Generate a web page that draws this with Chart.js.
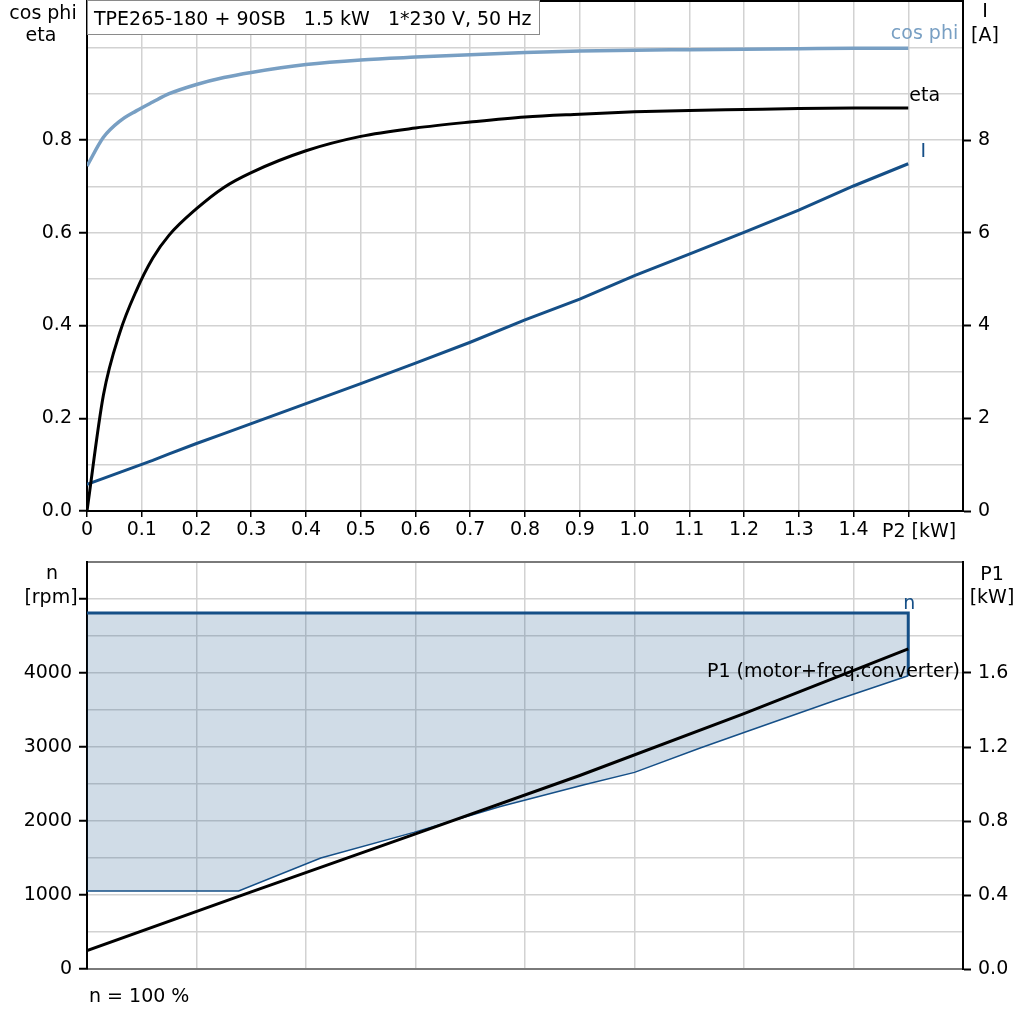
<!DOCTYPE html>
<html>
<head>
<meta charset="utf-8">
<script src="https://cdn.jsdelivr.net/npm/chart.js@4.4.1/dist/chart.umd.min.js"></script>
<style>
  html, body { margin: 0; padding: 0; background: #fff; }
  #wrap { position: relative; width: 1024px; height: 1024px; overflow: hidden; }
  #top { position: absolute; left: 0; top: 0; }
  #bot { position: absolute; left: 0; top: 545px; }
</style>
</head>
<body>
<div id="wrap">
  <canvas id="top" width="1024" height="545"></canvas>
  <canvas id="bot" width="1024" height="479"></canvas>
</div>
<script>
// --- dados ---
const P2 = [0, 0.03, 0.06, 0.09, 0.12, 0.15, 0.2, 0.25, 0.3, 0.4, 0.5, 0.6, 0.7, 0.8, 0.9, 1.0, 1.1, 1.2, 1.3, 1.4, 1.5];
const cosPhi = [0.744, 0.806, 0.841, 0.863, 0.882, 0.9, 0.92, 0.935, 0.946, 0.963, 0.973, 0.979, 0.984, 0.989, 0.992, 0.994, 0.995, 0.996, 0.997, 0.998, 0.998];
const eta = [0, 0.25, 0.385, 0.475, 0.545, 0.595, 0.652, 0.698, 0.73, 0.777, 0.808, 0.826, 0.839, 0.85, 0.856, 0.861, 0.864, 0.866, 0.868, 0.869, 0.869];
const corrente = [0.574, 0.703, 0.832, 0.961, 1.09, 1.23, 1.456, 1.67, 1.886, 2.316, 2.746, 3.19, 3.64, 4.12, 4.57, 5.075, 5.54, 6.01, 6.49, 7.01, 7.49];

const P2nMax = [0, 1.5];
const nMax = [4810, 4810];
const P2nMin = [0, 0.277, 0.427, 0.597, 0.755, 0.908, 1.0, 1.12, 1.2, 1.37, 1.5];
const nMin = [1054, 1054, 1500, 1846, 2197, 2491, 2657, 2986, 3197, 3639, 3963];
const P2p1 = [0, 0.3, 0.6, 0.9, 1.2, 1.5];
const P1 = [0.100, 0.417, 0.73, 1.046, 1.38, 1.73];

const titulo = 'TPE265-180 + 90SB   1.5 kW   1*230 V, 50 Hz';

const COR_COS = '#789fc3';
const COR_AZUL = '#154f87';
const COR_GRADE = '#d2d2d2';
const FONTE = 'DejaVu Sans';
const TAM = 19;

Chart.defaults.font.family = FONTE;
Chart.defaults.font.size = TAM;
Chart.defaults.color = '#000';

const pontos = (xs, ys) => xs.map((x, i) => ({ x, y: ys[i] }));
const transp = 'rgba(0,0,0,0)';

function fixarLargura(w) {
    return s => { s.width = w; s.paddingTop = 0; s.paddingBottom = 0; };
}
function fixarAltura(h) {
    return s => { s.height = h; s.paddingLeft = 0; s.paddingRight = 0; };
}

function texto(ctx, s, x, y, align, cor) {
    ctx.save();
    ctx.font = TAM + 'px "' + FONTE + '"';
    ctx.fillStyle = cor || '#000';
    ctx.textAlign = align || 'left';
    ctx.textBaseline = 'alphabetic';
    ctx.fillText(s, x, y);
    ctx.restore();
}

// --- gráfico de cima: cos phi, eta, I ---
const rotulosCima = {
    id: 'rotulosCima',
    afterDraw(chart) {
        const ctx = chart.ctx;
        const xs = chart.scales.x, yl = chart.scales.y, yr = chart.scales.yI;
        const fimX = xs.getPixelForValue(P2[P2.length - 1]);

        // caixa do título
        const esq = chart.chartArea.left;
        ctx.save();
        ctx.fillStyle = '#fff';
        ctx.fillRect(esq, 0, 452, 34);
        ctx.strokeStyle = '#8a8a8a';
        ctx.lineWidth = 1;
        ctx.strokeRect(esq + 0.5, 0.5, 452, 34);
        ctx.restore();
        texto(ctx, titulo, esq + 7, 25);

        texto(ctx, 'cos phi', 43, 19, 'center');
        texto(ctx, 'eta', 41, 41, 'center');
        texto(ctx, 'I', 985, 17, 'center');
        texto(ctx, '[A]', 985, 41, 'center');
        texto(ctx, 'P2 [kW]', 882, 537, 'left');

        texto(ctx, 'cos phi', fimX + 50, yl.getPixelForValue(cosPhi[cosPhi.length - 1]) - 9, 'right', COR_COS);
        texto(ctx, 'eta', fimX + 1, yl.getPixelForValue(eta[eta.length - 1]) - 7, 'left');
        texto(ctx, 'I', fimX + 15, yr.getPixelForValue(corrente[corrente.length - 1]) - 7, 'center', COR_AZUL);
    }
};

new Chart(document.getElementById('top'), {
    type: 'line',
    data: {
        datasets: [
            { label: 'cos phi', data: pontos(P2, cosPhi), yAxisID: 'y', borderColor: COR_COS, borderWidth: 3.5, pointRadius: 0, cubicInterpolationMode: 'monotone', fill: false },
            { label: 'eta', data: pontos(P2, eta), yAxisID: 'y', borderColor: '#000', borderWidth: 3, pointRadius: 0, cubicInterpolationMode: 'monotone', fill: false },
            { label: 'I', data: pontos(P2, corrente), yAxisID: 'yI', borderColor: COR_AZUL, borderWidth: 3, pointRadius: 0, tension: 0, fill: false }
        ]
    },
    options: {
        responsive: false,
        animation: false,
        layout: { padding: { top: 1, left: 0, right: 0, bottom: 0 } },
        plugins: { legend: { display: false }, tooltip: { enabled: false } },
        scales: {
            x: {
                type: 'linear', min: 0, max: 1.6,
                ticks: {
                    stepSize: 0.1, autoSkip: false, maxRotation: 0, padding: 2,
                    callback: v => {
                        const k = Math.round(v * 10);
                        if (k >= 15) return '';
                        return k === 0 ? '0' : (k / 10).toFixed(1);
                    }
                },
                grid: {
                    color: COR_GRADE, lineWidth: 1.5, tickLength: 6,
                    tickColor: c => (Math.round(c.tick.value * 10) <= 15 ? '#000' : transp),
                    tickWidth: 1.5
                },
                border: { color: '#000', width: 2 },
                afterFit: fixarAltura(34)
            },
            y: {
                position: 'left', min: 0, max: 1.1,
                ticks: {
                    stepSize: 0.1, autoSkip: false, padding: 7,
                    callback: v => {
                        const k = Math.round(v * 10);
                        return (k % 2 === 0 && k <= 8) ? (k / 10).toFixed(1) : '';
                    }
                },
                grid: {
                    color: c => (Math.round(c.tick.value * 10) === 11 ? '#000' : COR_GRADE),
                    lineWidth: c => (Math.round(c.tick.value * 10) === 11 ? 2 : 1.5),
                    tickLength: 8,
                    tickColor: c => { const k = Math.round(c.tick.value * 10); return (k % 2 === 0 && k <= 8) ? '#000' : transp; },
                    tickWidth: 2
                },
                border: { color: '#000', width: 2 },
                afterFit: fixarLargura(87)
            },
            yI: {
                position: 'right', min: 0, max: 11,
                ticks: {
                    stepSize: 1, autoSkip: false, padding: 7,
                    callback: v => (v % 2 === 0 && v <= 8) ? String(v) : ''
                },
                grid: {
                    drawOnChartArea: false, tickLength: 8,
                    tickColor: c => (c.tick.value % 2 === 0 && c.tick.value <= 8) ? '#000' : transp,
                    tickWidth: 2
                },
                border: { color: '#000', width: 2 },
                afterFit: fixarLargura(61)
            }
        }
    },
    plugins: [rotulosCima]
});

// --- gráfico de baixo: n e P1 ---
const areaN = pontos(P2nMax, nMax).concat(pontos(P2nMin, nMin).reverse());
const linhaNMax = pontos(P2nMax, nMax).concat([{ x: P2nMax[P2nMax.length - 1], y: nMin[nMin.length - 1] }]);

const rotulosBaixo = {
    id: 'rotulosBaixo',
    afterDraw(chart) {
        const ctx = chart.ctx;
        const xs = chart.scales.x, yn = chart.scales.y, yp = chart.scales.yP1;
        const fimX = xs.getPixelForValue(P2nMax[P2nMax.length - 1]);
        texto(ctx, 'n', 52, 34, 'center');
        texto(ctx, '[rpm]', 51, 58, 'center');
        texto(ctx, 'P1', 992, 35, 'center');
        texto(ctx, '[kW]', 992, 58, 'center');
        texto(ctx, 'n = 100 %', 89, 457, 'left');
        texto(ctx, 'n', fimX + 1, yn.getPixelForValue(nMax[nMax.length - 1]) - 4, 'center', COR_AZUL);
        texto(ctx, 'P1 (motor+freq.converter)', 960, yp.getPixelForValue(P1[P1.length - 1]) + 28, 'right');
    }
};

new Chart(document.getElementById('bot'), {
    type: 'line',
    data: {
        datasets: [
            { label: 'P1', data: pontos(P2p1, P1), yAxisID: 'yP1', borderColor: '#000', borderWidth: 3, pointRadius: 0, tension: 0, fill: false, order: 0 },
            { label: 'n max', data: linhaNMax, yAxisID: 'y', borderColor: COR_AZUL, borderWidth: 3, pointRadius: 0, tension: 0, fill: false, order: 1 },
            { label: 'n min', data: pontos(P2nMin, nMin), yAxisID: 'y', borderColor: COR_AZUL, borderWidth: 1.5, pointRadius: 0, tension: 0, fill: false, order: 2 },
            { label: 'area', data: areaN, yAxisID: 'y', borderWidth: 0, borderColor: transp, backgroundColor: 'rgba(21,79,135,0.2)', pointRadius: 0, tension: 0, fill: 'shape', order: 3 }
        ]
    },
    options: {
        responsive: false,
        animation: false,
        layout: { padding: { top: 17, left: 0, right: 0, bottom: 0 } },
        plugins: { legend: { display: false }, tooltip: { enabled: false } },
        scales: {
            x: {
                type: 'linear', min: 0, max: 1.6,
                ticks: { stepSize: 0.2, display: false },
                grid: { color: COR_GRADE, lineWidth: 1.5, drawTicks: false },
                border: { color: '#7a7a7a', width: 2 },
                afterFit: fixarAltura(55)
            },
            y: {
                position: 'left', min: 0, max: 5500,
                ticks: {
                    stepSize: 500, autoSkip: false, padding: 7,
                    callback: v => (v % 1000 === 0 && v <= 4000) ? String(v) : ''
                },
                grid: {
                    color: c => (c.tick.value === 5500 ? '#7a7a7a' : COR_GRADE),
                    lineWidth: c => (c.tick.value === 5500 ? 2 : 1.5),
                    tickLength: 8,
                    tickColor: c => (c.tick.value % 1000 === 0 && c.tick.value <= 5000) ? '#000' : transp,
                    tickWidth: 2
                },
                border: { color: '#000', width: 2 },
                afterFit: fixarLargura(87)
            },
            yP1: {
                position: 'right', min: 0, max: 2.2,
                ticks: {
                    stepSize: 0.2, autoSkip: false, padding: 7,
                    callback: v => { const k = Math.round(v * 10); return (k % 4 === 0 && k <= 16) ? (k / 10).toFixed(1) : ''; }
                },
                grid: {
                    drawOnChartArea: false, tickLength: 8,
                    tickColor: c => { const k = Math.round(c.tick.value * 10); return (k % 4 === 0 && k <= 16) ? '#000' : transp; },
                    tickWidth: 2
                },
                border: { color: '#000', width: 2 },
                afterFit: fixarLargura(61)
            }
        }
    },
    plugins: [rotulosBaixo]
});
</script>
</body>
</html>
